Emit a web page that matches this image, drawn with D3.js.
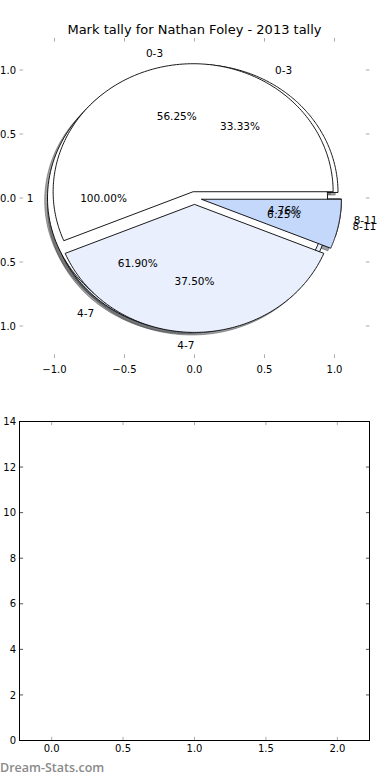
<!DOCTYPE html>
<html><head><meta charset="utf-8">
<script src="https://cdn.jsdelivr.net/npm/d3@7/dist/d3.min.js"></script>
<style>body{margin:0;background:#fff}svg{display:block}</style>
</head><body>
<script>
// ---- data ----
const sliceLabels = ["0-3", "4-7", "8-11"];
const pieAValues = [7, 13, 1];      // 33.33%, 61.90%, 4.76%
const pieBLabels = ["1"];
const pieBValues = [1];             // 100.00%
const pieCValues = [9, 6, 1];       // 56.25%, 37.50%, 6.25%
const sliceColors = ["#ffffff", "#e9effc", "#c4d8fb"];
const pieTicks = [-1, -0.5, 0, 0.5, 1];
const barTicksX = [0, 0.5, 1, 1.5, 2];
const barTicksY = [0, 2, 4, 6, 8, 10, 12, 14];
const titleText = "Mark tally for Nathan Foley - 2013 tally";
const watermarkText = "Dream-Stats.com";
const explode = 0.05;

const W = 390, H = 780;
const svg = d3.select("body").append("svg").attr("width", W).attr("height", H)
  .style("font-family", "'DejaVu Sans', sans-serif");

// ---- top (pie) axes ----
const L = 19.5, R = 369.5, T1 = 38, B1 = 358;
const x = d3.scaleLinear().domain([-1.25, 1.25]).range([L, R]);
const y = d3.scaleLinear().domain([-1.25, 1.25]).range([B1, T1]);

const pies = [
  { labels: sliceLabels, values: pieAValues },
  { labels: pieBLabels, values: pieBValues },
  { labels: sliceLabels, values: pieCValues }
];
const pieGen = d3.pie().sort(null).startAngle(Math.PI / 2).endAngle(Math.PI / 2 - 2 * Math.PI);
const line = d3.line().x(p => x(p[0])).y(p => y(p[1])).curve(d3.curveLinearClosed);

const wedges = [];
pies.forEach(pie => {
  const total = d3.sum(pie.values);
  pieGen(pie.values).forEach((a, i) => {
    const t1 = Math.PI / 2 - a.startAngle, t2 = Math.PI / 2 - a.endAngle;
    const mid = (t1 + t2) / 2;
    const cx = explode * Math.cos(mid), cy = explode * Math.sin(mid);
    const full = Math.abs(t2 - t1 - 2 * Math.PI) < 1e-9;
    const pts = [];
    if (!full) pts.push([cx, cy]);
    const n = 180;
    for (let k = 0; k <= n; k++) {
      const t = t1 + (t2 - t1) * k / n;
      pts.push([cx + Math.cos(t), cy + Math.sin(t)]);
    }
    wedges.push({ pts, cx, cy, mid, color: sliceColors[i % sliceColors.length],
      label: pie.labels[i], pct: (100 * a.value / total).toFixed(2) + "%" });
  });
});

function shadowColor(c) {
  const r = d3.rgb(c);
  return `rgba(${Math.round(r.r * 0.3)},${Math.round(r.g * 0.3)},${Math.round(r.b * 0.3)},0.5)`;
}
const gPie = svg.append("g");
// shadows
wedges.forEach(w => {
  gPie.append("path")
    .attr("d", line(w.pts.map(p => [p[0] - 0.02, p[1] - 0.02])))
    .attr("fill", shadowColor(w.color))
    .attr("stroke", shadowColor(w.color)).attr("stroke-width", 1);
});
// wedges
wedges.forEach(w => {
  gPie.append("path").attr("d", line(w.pts))
    .attr("fill", w.color).attr("stroke", "#000").attr("stroke-width", 0.9)
    .attr("stroke-linejoin", "miter");
});
// texts
wedges.forEach(w => {
  const lx = w.cx + 1.1 * Math.cos(w.mid), ly = w.cy + 1.1 * Math.sin(w.mid);
  gPie.append("text").attr("x", x(lx)).attr("y", y(ly)).attr("dy", "0.36em")
    .attr("text-anchor", lx > 0 ? "start" : "end")
    .attr("font-size", 10.5).attr("fill", "#000").text(w.label);
  const px = w.cx + 0.6 * Math.cos(w.mid), py = w.cy + 0.6 * Math.sin(w.mid);
  gPie.append("text").attr("x", x(px)).attr("y", y(py)).attr("dy", "0.36em")
    .attr("text-anchor", "middle")
    .attr("font-size", 10.5).attr("fill", "#000").text(w.pct);
});

const tickColor = "#aaa";
const fmt = v => (v < 0 ? "\u2212" : "") + Math.abs(v).toFixed(1);
// top axes ticks (no frame)
pieTicks.forEach(v => {
  svg.append("line").attr("x1", x(v)).attr("x2", x(v)).attr("y1", B1).attr("y2", B1 - 3.6)
    .attr("stroke", tickColor).attr("stroke-width", 1);
  svg.append("line").attr("x1", x(v)).attr("x2", x(v)).attr("y1", T1).attr("y2", T1 + 3.6)
    .attr("stroke", tickColor).attr("stroke-width", 1);
  svg.append("line").attr("y1", y(v)).attr("y2", y(v)).attr("x1", L).attr("x2", L + 3.6)
    .attr("stroke", tickColor).attr("stroke-width", 1);
  svg.append("line").attr("y1", y(v)).attr("y2", y(v)).attr("x1", R).attr("x2", R - 3.6)
    .attr("stroke", tickColor).attr("stroke-width", 1);
  svg.append("text").attr("x", x(v)).attr("y", B1 + 7).attr("dy", "0.76em")
    .attr("text-anchor", "middle").attr("font-size", 10).text(fmt(v));
  svg.append("text").attr("x", L - 3.5).attr("y", y(v)).attr("dy", "0.36em")
    .attr("text-anchor", "end").attr("font-size", 10).text(fmt(v));
});
svg.append("text").attr("x", (L + R) / 2).attr("y", 34).attr("text-anchor", "middle")
  .attr("font-size", 13).text(titleText);

// ---- bottom axes ----
const T2 = 421.5, B2 = 740.5;
const xb = d3.scaleLinear().domain([-0.225, 2.225]).range([L, R]);
const yb = d3.scaleLinear().domain([0, 14]).range([B2, T2]);
const gB = svg.append("g");
barTicksX.forEach(v => {
  gB.append("line").attr("x1", xb(v)).attr("x2", xb(v)).attr("y1", B2).attr("y2", B2 - 3.6)
    .attr("stroke", tickColor).attr("stroke-width", 1);
  gB.append("line").attr("x1", xb(v)).attr("x2", xb(v)).attr("y1", T2).attr("y2", T2 + 3.6)
    .attr("stroke", tickColor).attr("stroke-width", 1);
  gB.append("text").attr("x", xb(v)).attr("y", B2 + 3.5).attr("dy", "0.76em")
    .attr("text-anchor", "middle").attr("font-size", 10).text(fmt(v));
});
barTicksY.forEach(v => {
  gB.append("line").attr("y1", yb(v)).attr("y2", yb(v)).attr("x1", L).attr("x2", L + 3.6)
    .attr("stroke", "#555").attr("stroke-width", 1);
  gB.append("line").attr("y1", yb(v)).attr("y2", yb(v)).attr("x1", R).attr("x2", R - 3.6)
    .attr("stroke", "#555").attr("stroke-width", 1);
  gB.append("text").attr("x", L - 3.5).attr("y", yb(v)).attr("dy", "0.36em")
    .attr("text-anchor", "end").attr("font-size", 10).text(v);
});
gB.append("rect").attr("x", L).attr("y", T2).attr("width", R - L).attr("height", B2 - T2)
  .attr("fill", "none").attr("stroke", "#000").attr("stroke-width", 1);

svg.append("text").attr("x", 0).attr("y", 772).attr("font-family", "'Open Sans', sans-serif")
  .attr("font-weight", 600).attr("font-size", 12.5).attr("fill", "#8a8a8a").text(watermarkText);
</script>
</body></html>
